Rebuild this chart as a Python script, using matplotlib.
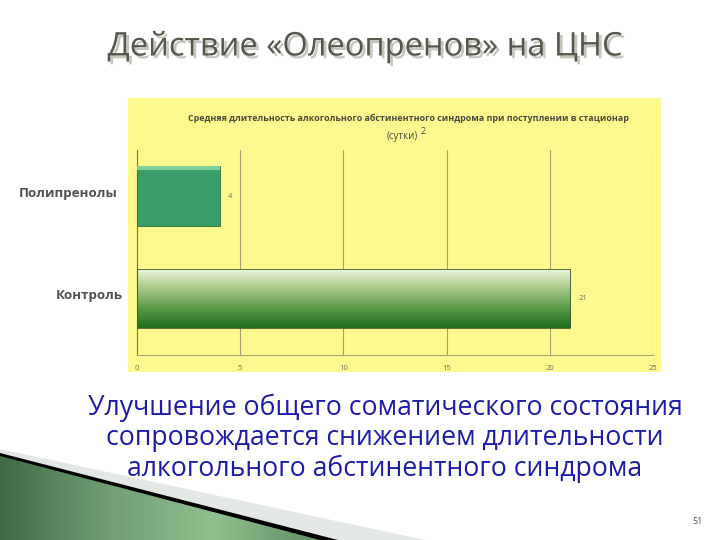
import numpy as np
import matplotlib.pyplot as plt
import matplotlib.patheffects as pe
from matplotlib.colors import LinearSegmentedColormap
from matplotlib.patches import Polygon, Rectangle

# данные
categories = ['Контроль', 'Полипренолы']
values = [21, 4]
xticks = [0, 5, 10, 15, 20, 25]

title = 'Действие «Олеопренов» на ЦНС'
chart_title = 'Средняя длительность алкогольного абстинентного синдрома при поступлении в стационар'
body = ['Улучшение общего соматического состояния',
        'сопровождается снижением длительности',
        'алкогольного абстинентного синдрома']

plt.rcParams['font.family'] = ['Open Sans', 'DejaVu Sans']

fig = plt.figure(figsize=(7.2, 5.4), dpi=100)
fig.patch.set_facecolor('white')

# фон слайда в пикселях
bg = fig.add_axes([0, 0, 1, 1], zorder=0)
bg.set_xlim(0, 720)
bg.set_ylim(540, 0)
bg.axis('off')

bg.add_patch(Rectangle((128, 98), 533, 274, facecolor='#fdf98f', edgecolor='none'))

# декоративный клин слева внизу
grey = Polygon([(0, 449), (0, 454), (338, 540), (425, 540)], closed=True,
               facecolor='#e4e8e4', edgecolor='none')
bg.add_patch(grey)
black = Polygon([(0, 453), (0, 457), (318, 540), (338, 540)], closed=True,
                facecolor='black', edgecolor='none')
bg.add_patch(black)
wedge = Polygon([(0, 456), (0, 540), (320, 540)], closed=True,
                facecolor='none', edgecolor='none')
bg.add_patch(wedge)
gcm = LinearSegmentedColormap.from_list('g', ['#3d6b45', '#6e9e72', '#8fc08f', '#5f8f62'])
im = bg.imshow(np.linspace(0, 1, 256).reshape(1, -1), extent=[0, 320, 540, 455],
               cmap=gcm, aspect='auto', zorder=1)
im.set_clip_path(wedge)
bg.set_xlim(0, 720)
bg.set_ylim(540, 0)

# заголовок с тенью
bg.text(365, 47, title, fontsize=23.5, color='#56574a', ha='center', va='center',
        path_effects=[pe.withSimplePatchShadow(offset=(2, -2), shadow_rgbFace='#b8b8b0', alpha=0.8)])

bg.text(408, 118, chart_title, fontsize=6.4, color='#4a4a3a', ha='center', va='center',
        fontweight='bold')
bg.text(402, 137, '(сутки)', fontsize=7, color='#4a4a3a', ha='center', va='center')
bg.text(423, 131, '2', fontsize=6.5, color='#4a4a3a', ha='center', va='center')

bg.text(118, 193, categories[1], fontsize=9.6, color='#505050', ha='right', va='center',
        fontweight='bold')
bg.text(123, 296, categories[0], fontsize=9.6, color='#505050', ha='right', va='center',
        fontweight='bold')

for i, line in enumerate(body):
    bg.text(385, 408 + i * 30.5, line, fontsize=19.2, color='#1c1ca8', ha='center', va='center')

bg.text(698, 522, '51', fontsize=6.5, color='#505050', ha='center', va='center')

# диаграмма
ax = fig.add_axes([137 / 720, (540 - 355) / 540, 516 / 720, 205 / 540], zorder=2)
ax.set_facecolor('none')
ypos = np.arange(len(categories))
h = 0.58

bars = ax.barh(ypos, values, height=h, color=['none', '#3a9e6a'],
               edgecolor=['#3a5a2a', '#2f6a45'], linewidth=0.6, zorder=3)
ax.barh(ypos[1] + h / 2 - 0.02, values[1], height=0.04, color='#7fd09a', zorder=4)

# градиент для контроля: светлый сверху, тёмный снизу
ccm = LinearSegmentedColormap.from_list('c', ['#f2f7e0', '#a9c98a', '#5a9a45', '#1e6e1e'])
gim = ax.imshow(np.linspace(0, 1, 256).reshape(-1, 1),
                extent=[0, values[0], ypos[0] - h / 2, ypos[0] + h / 2],
                cmap=ccm, aspect='auto', origin='upper', zorder=2)
gim.set_clip_path(bars[0])

ax.set_xlim(0, 25)
ax.set_ylim(-0.55, 1.45)
ax.set_xticks(xticks)
ax.set_yticks([])
ax.grid(axis='x', color='#a8a070', linewidth=0.8, zorder=1)
for s in ['top', 'right']:
    ax.spines[s].set_visible(False)
ax.spines['left'].set_color('#7a7a5a')
ax.spines['bottom'].set_color('#a8a070')
ax.tick_params(axis='x', length=0, labelsize=5.5, labelcolor='#707060', pad=7)

for y, v in zip(ypos, values):
    ax.text(v + 0.4, y, str(v), fontsize=5.5, color='#707060', va='center', ha='left')

fig.savefig('out.png', dpi=100, facecolor='white')
